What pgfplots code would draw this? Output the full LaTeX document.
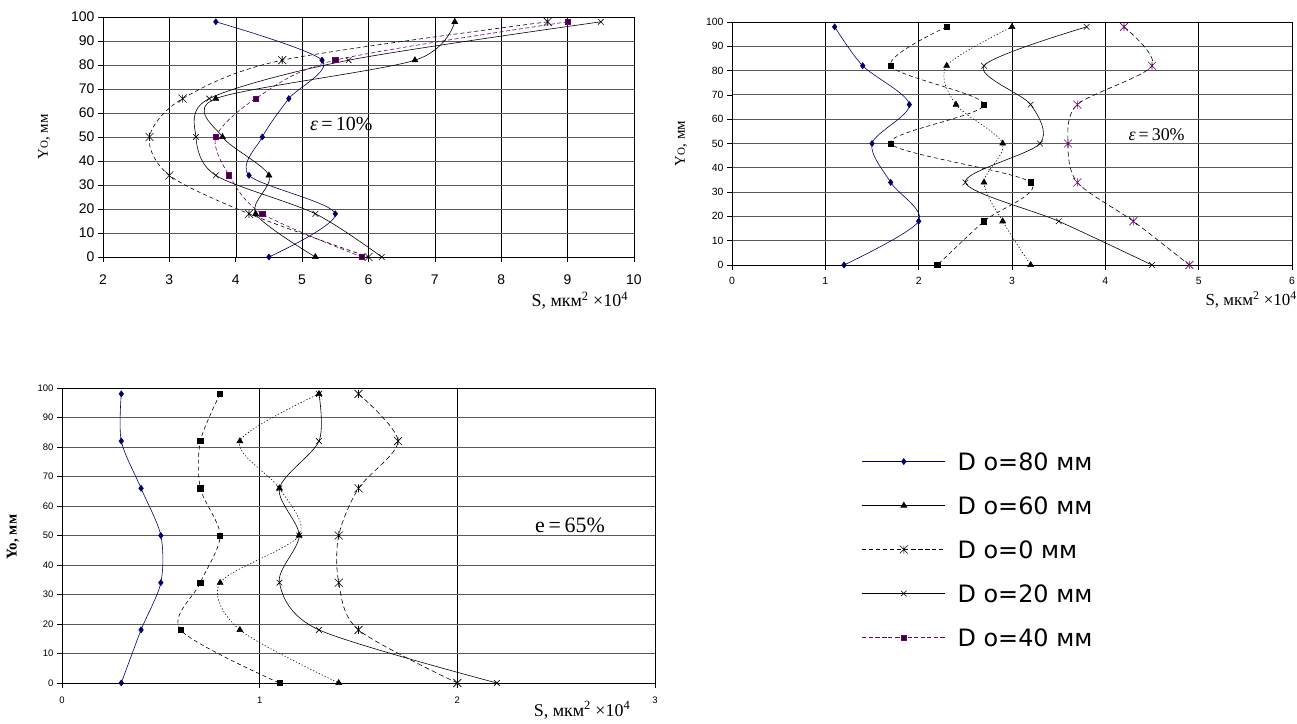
\documentclass[border=0pt]{standalone}
\usepackage{fontspec}
\setmainfont{Liberation Sans}
\newfontfamily\tnr{Liberation Serif}
\newfontfamily\dv{DejaVu Sans}
\usepackage{pgfplots}
\pgfplotsset{compat=1.18}
\definecolor{navy}{RGB}{0,0,110}
\definecolor{plum}{RGB}{110,0,110}
\pgfdeclareplotmark{xstar}{%
  \pgfpathmoveto{\pgfqpoint{-\pgfplotmarksize}{-\pgfplotmarksize}}%
  \pgfpathlineto{\pgfqpoint{\pgfplotmarksize}{\pgfplotmarksize}}%
  \pgfpathmoveto{\pgfqpoint{-\pgfplotmarksize}{\pgfplotmarksize}}%
  \pgfpathlineto{\pgfqpoint{\pgfplotmarksize}{-\pgfplotmarksize}}%
  \pgfpathmoveto{\pgfqpoint{0pt}{-\pgfplotmarksize}}%
  \pgfpathlineto{\pgfqpoint{0pt}{\pgfplotmarksize}}%
  \pgfusepathqstroke}
\pgfplotsset{
  base/.style={scale only axis, anchor=south west,
    axis line style={black, line width=0.6pt},
    xmajorgrids, ymajorgrids,
    x grid style={black, line width=0.5pt},
    y grid style={black!65, line width=0.9pt},
    tick align=outside, xtick pos=left, ytick pos=left,
    major tick length=5bp, tick style={black, line width=0.6pt},
    ymin=0, ymax=100, ytick={0,10,...,100},
    /pgf/number format/assume math mode=true,
    every axis plot/.append style={smooth, tension=0.5, line width=0.6pt},
    ylabel style={anchor=center},
    xlabel style={anchor=center},
  },
  s80/.style={color=navy, solid, mark=diamond*, mark size=3bp, mark options={solid, fill=navy}},
  s60/.style={black, solid, mark=triangle*, mark size=3.4bp, mark options={solid, fill=black}},
  s0/.style={black, dash pattern=on 4bp off 3bp, mark=xstar, mark size=4bp, mark options={solid}},
  s20/.style={black, solid, mark=x, mark size=4bp, mark options={solid}},
  s40/.style={plum, dash pattern=on 4bp off 2.5bp, mark=square*, mark size=2.6bp, mark options={solid, draw=plum, fill=plum!55!black}},
  sq/.style={black, dash pattern=on 4bp off 3bp, mark=square*, mark size=2.6bp, mark options={solid, fill=black}},
  tri/.style={black, dash pattern=on 1.2bp off 2bp, mark=triangle*, mark size=3.4bp, mark options={solid, fill=black}},
  pst/.style={black, dash pattern=on 5bp off 3bp, mark=xstar, mark size=4bp, mark options={solid, draw=plum}},
  bst/.style={black, dash pattern=on 5bp off 3bp, mark=xstar, mark size=4bp, mark options={solid}},
}
\begin{document}
\begin{tikzpicture}
\path[use as bounding box] (0bp,0bp) rectangle (1297bp,724bp);
% ---------- top left: eps = 10%
\begin{axis}[base, at={(103bp,467bp)}, width=531bp, height=240bp,
  xmin=2, xmax=10, xtick={2,...,10},
  ticklabel style={font=\fontsize{14}{14}\selectfont},
  xticklabel style={yshift=-9bp},
  xlabel={\tnr\fontsize{18}{18}\selectfont S, мкм\textsuperscript{2} ×10\textsuperscript{4}},
  xlabel style={at={(axis description cs:0.898,-0.182)}},
  ylabel={\tnr\fontsize{15}{15}\selectfont Y{\fontsize{11}{11}\selectfont O}, мм},
  ylabel style={at={(axis description cs:-0.111,0.5)}},
  legend style={at={(1.4294,-0.8167)}, anchor=north west, draw=none, fill=none,
    inner sep=0pt, outer sep=0pt, font=\dv\fontsize{24}{24}\selectfont,
    nodes={inner sep=0pt, text height=17bp, text depth=0bp},
    row sep=27bp, column sep=0pt},
  legend cell align=left,
  legend image code/.code={\draw[mark repeat=2,mark phase=2,#1] plot coordinates {(0bp,0bp)(41.5bp,0bp)(83bp,0bp)}; \path (95bp,0bp);},
]
\addplot[s80] coordinates {(3.7,98)(5.3,82)(4.8,66)(4.4,50)(4.2,34)(5.5,18)(4.5,0)};
\addlegendentry{D o=80 мм}
\addplot[s60] coordinates {(7.3,98)(6.7,82)(3.7,66)(3.8,50)(4.5,34)(4.3,18)(5.2,0)};
\addlegendentry{D o=60 мм}
\addplot[s0] coordinates {(8.7,98)(4.7,82)(3.2,66)(2.7,50)(3.0,34)(4.2,18)(6.0,0)};
\addlegendentry{D o=0 мм}
\addplot[s20] coordinates {(9.5,98)(5.7,82)(3.6,66)(3.4,50)(3.7,34)(5.2,18)(6.2,0)};
\addlegendentry{D o=20 мм}
\addplot[s40] coordinates {(9.0,98)(5.5,82)(4.3,66)(3.7,50)(3.9,34)(4.4,18)(5.9,0)};
\addlegendentry{D o=40 мм}
\node at (axis cs:5.59,55.4) {\tnr\fontsize{20}{20}\selectfont\textit{ε}\,=\,10\%};
\end{axis}
% ---------- top right: eps = 30%
\begin{axis}[base, at={(732bp,459bp)}, width=560bp, height=243bp,
  xmin=0, xmax=6, xtick={0,...,6},
  ticklabel style={font=\fontsize{10.5}{10.5}\selectfont},
  xticklabel style={yshift=-4bp},
  xlabel={\tnr\fontsize{17}{17}\selectfont S, мкм\textsuperscript{2} ×10\textsuperscript{4}},
  xlabel style={at={(axis description cs:0.927,-0.142)}},
  ylabel={\tnr\fontsize{15}{15}\selectfont Y{\fontsize{11}{11}\selectfont O}, мм},
  ylabel style={at={(axis description cs:-0.091,0.5)}},
]
\addplot[s80] coordinates {(1.1,98)(1.4,82)(1.9,66)(1.5,50)(1.7,34)(2.0,18)(1.2,0)};
\addplot[sq] coordinates {(2.3,98)(1.7,82)(2.7,66)(1.7,50)(3.2,34)(2.7,18)(2.2,0)};
\addplot[tri] coordinates {(3.0,98)(2.3,82)(2.4,66)(2.9,50)(2.7,34)(2.9,18)(3.2,0)};
\addplot[s20] coordinates {(3.8,98)(2.7,82)(3.2,66)(3.3,50)(2.5,34)(3.5,18)(4.5,0)};
\addplot[pst] coordinates {(4.2,98)(4.5,82)(3.7,66)(3.6,50)(3.7,34)(4.3,18)(4.9,0)};
\node at (axis cs:4.55,53.5) {\tnr\fontsize{18}{18}\selectfont\textit{ε}\,=\,30\%};
\end{axis}
% ---------- bottom: e = 65%
\begin{axis}[base, at={(62bp,41bp)}, width=593bp, height=295bp,
  xmin=0, xmax=3, xtick={0,...,3},
  ticklabel style={font=\fontsize{9.5}{9.5}\selectfont},
  xticklabel style={yshift=-5bp},
  xlabel={\tnr\fontsize{18}{18}\selectfont S, мкм\textsuperscript{2} ×10\textsuperscript{4}},
  xlabel style={at={(axis description cs:0.877,-0.092)}},
  ylabel={\tnr\bfseries\fontsize{15}{15}\selectfont Yo, мм},
  ylabel style={at={(axis description cs:-0.083,0.495)}},
]
\addplot[s80] coordinates {(0.3,98)(0.3,82)(0.4,66)(0.5,50)(0.5,34)(0.4,18)(0.3,0)};
\addplot[sq] coordinates {(0.8,98)(0.7,82)(0.7,66)(0.8,50)(0.7,34)(0.6,18)(1.1,0)};
\addplot[tri] coordinates {(1.3,98)(0.9,82)(1.1,66)(1.2,50)(0.8,34)(0.9,18)(1.4,0)};
\addplot[s20] coordinates {(1.3,98)(1.3,82)(1.1,66)(1.2,50)(1.1,34)(1.3,18)(2.2,0)};
\addplot[bst] coordinates {(1.5,98)(1.7,82)(1.5,66)(1.4,50)(1.4,34)(1.5,18)(2.0,0)};
\node at (axis cs:2.57,53.6) {\tnr\fontsize{22}{22}\selectfont e\,=\,65\%};
\end{axis}
\end{tikzpicture}
\end{document}
